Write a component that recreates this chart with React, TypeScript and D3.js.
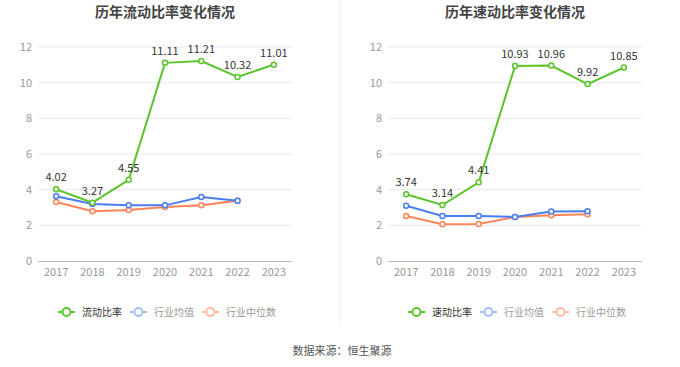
import * as d3 from "d3";
import React from "react";

const years = ["2017", "2018", "2019", "2020", "2021", "2022", "2023"];
const yTicks = [0, 2, 4, 6, 8, 10, 12];

// 流动比率
const currentRatio = [4.02, 3.27, 4.55, 11.11, 11.21, 10.32, 11.01];
const currentAvg = [3.63, 3.2, 3.12, 3.12, 3.59, 3.38];
const currentMedian = [3.31, 2.79, 2.86, 3.03, 3.12, 3.38];

// 速动比率
const quickRatio = [3.74, 3.14, 4.41, 10.93, 10.96, 9.92, 10.85];
const quickAvg = [3.1, 2.52, 2.52, 2.47, 2.77, 2.79];
const quickMedian = [2.52, 2.06, 2.07, 2.47, 2.56, 2.62];

const GREEN = "#5bc42a";
const BLUE = "#4a7ef0";
const ORANGE = "#ff8557";
const FONT = "'Noto Sans CJK SC', 'Noto Sans', sans-serif";

type ChartProps = {
  x0: number;
  title: string;
  name: string;
  main: number[];
  avg: number[];
  median: number[];
};

const Chart = ({ x0, title, name, main, avg, median }: ChartProps) => {
  const left = x0 + 38;
  const right = x0 + 292;
  const top = 47;
  const bottom = 261;

  const scaleX = d3.scaleBand().domain(years).range([left, right]);
  const scaleY = d3.scaleLinear().domain([0, 12]).range([bottom, top]);
  const cx = (i: number) => (scaleX(years[i]) as number) + scaleX.bandwidth() / 2;

  const line = d3
    .line<number>()
    .x((_, i) => cx(i))
    .y(d => scaleY(d));

  const series = [
    { data: median, color: ORANGE },
    { data: avg, color: BLUE },
    { data: main, color: GREEN },
  ];

  // 图例位置
  const legend = [
    { label: name, color: GREEN, text: "#333", x: x0 + 58 },
    { label: "行业均值", color: "#a3bff7", text: "#999", x: x0 + 130 },
    { label: "行业中位数", color: "#ffbca3", text: "#999", x: x0 + 202 },
  ];

  return (
    <g fontFamily={FONT}>
      <text x={x0 + 165} y={17} textAnchor="middle" fontSize={14} fontWeight="bold" fill="#444">
        {title}
      </text>
      {yTicks.map(t => (
        <g key={t}>
          {t > 0 && (
            <line x1={left} x2={right} y1={scaleY(t)} y2={scaleY(t)} stroke="#e6e9f2" strokeWidth={1} />
          )}
          <text x={left - 6} y={scaleY(t) + 4} textAnchor="end" fontSize={11} fill="#999">
            {t}
          </text>
        </g>
      ))}
      <line x1={left} x2={right} y1={bottom + 0.5} y2={bottom + 0.5} stroke="#bbb" strokeWidth={1} />
      {years.map((y, i) => (
        <text key={y} x={cx(i)} y={276} textAnchor="middle" fontSize={11} fill="#999">
          {y}
        </text>
      ))}
      {series.map((s, k) => (
        <g key={k}>
          <path d={line(s.data) || ""} fill="none" stroke={s.color} strokeWidth={2} />
          {s.data.map((d, i) => (
            <circle key={i} cx={cx(i)} cy={scaleY(d)} r={2.5} fill="#fff" stroke={s.color} strokeWidth={1.5} />
          ))}
        </g>
      ))}
      {main.map((d, i) => (
        <text key={i} x={cx(i)} y={scaleY(d) - 8} textAnchor="middle" fontSize={11} fill="#333">
          {d.toFixed(2)}
        </text>
      ))}
      {legend.map(l => (
        <g key={l.label}>
          <line x1={l.x} x2={l.x + 17} y1={312} y2={312} stroke={l.color} strokeWidth={2} />
          <circle cx={l.x + 8.5} cy={312} r={4} fill="#fff" stroke={l.color} strokeWidth={2} />
          <text x={l.x + 24} y={315.5} fontSize={10} fill={l.text}>
            {l.label}
          </text>
        </g>
      ))}
    </g>
  );
};

export default function App() {
  return (
    <svg
      width={680}
      height={367}
      style={{ position: "absolute", left: 0, top: 0, background: "#fff" }}
    >
      <line x1={340.5} x2={340.5} y1={0} y2={325} stroke="#f0f0f0" strokeWidth={1} />
      <Chart x0={0} title="历年流动比率变化情况" name="流动比率" main={currentRatio} avg={currentAvg} median={currentMedian} />
      <Chart x0={350} title="历年速动比率变化情况" name="速动比率" main={quickRatio} avg={quickAvg} median={quickMedian} />
      <text x={342} y={355} textAnchor="middle" fontSize={11} fill="#555" fontFamily={FONT}>
        数据来源：恒生聚源
      </text>
    </svg>
  );
}
